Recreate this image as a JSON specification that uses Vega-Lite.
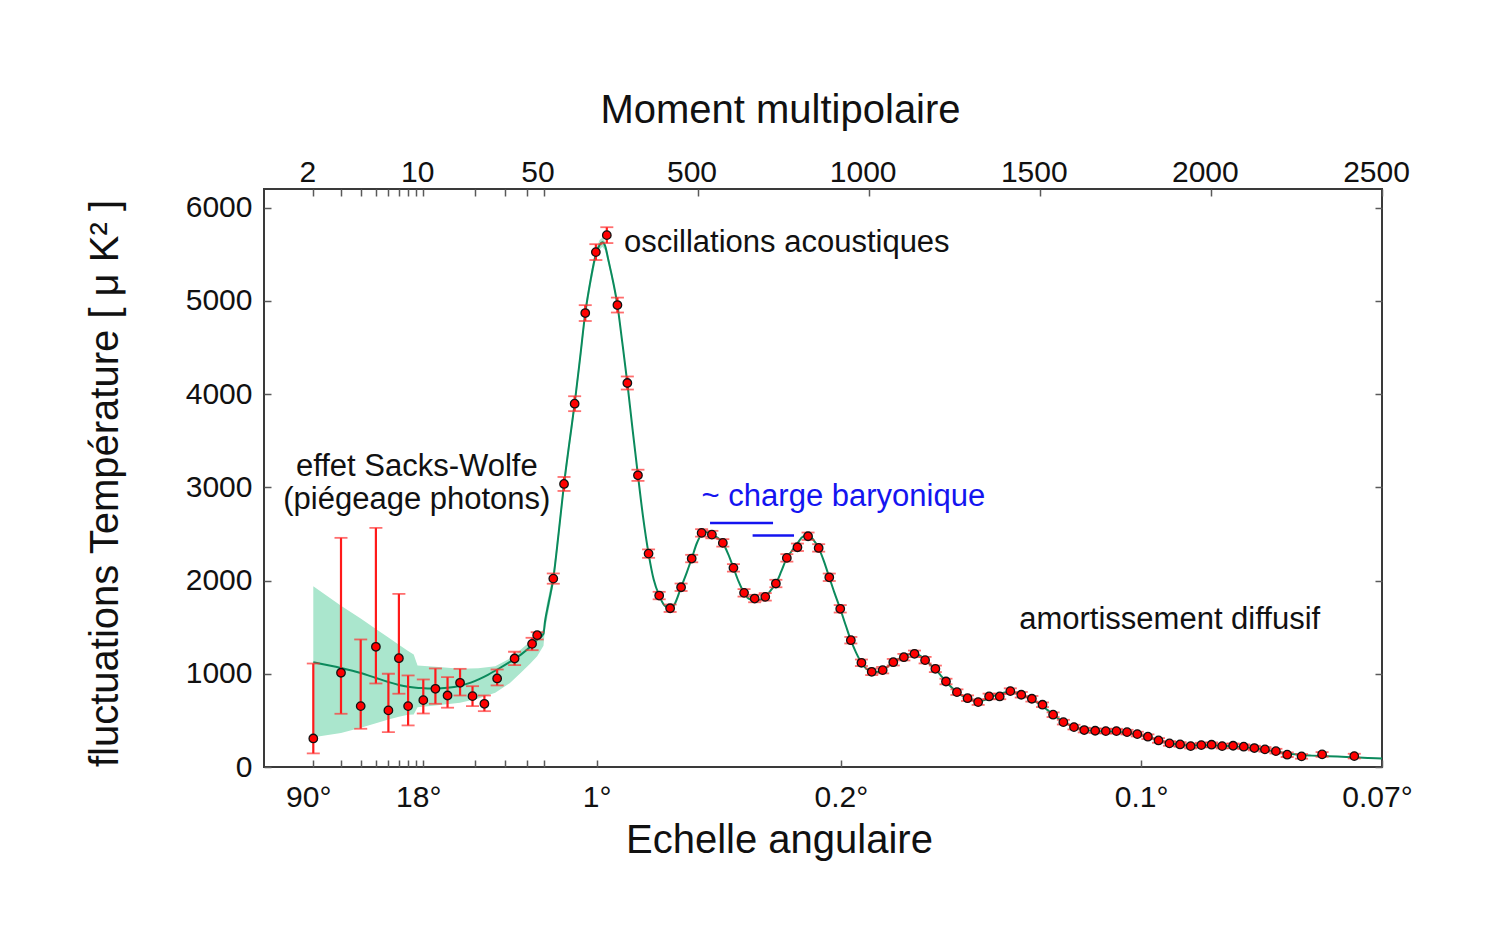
{
  "$schema": "https://vega.github.io/schema/vega-lite/v6.json",
  "width": 1118,
  "height": 578,
  "autosize": {"type": "none"},
  "padding": {"left": 264, "top": 189, "right": 111, "bottom": 164},
  "background": "white",
  "config": {
    "view": {"stroke": "#3a3a3a", "strokeWidth": 2},
    "font": "Liberation Sans",
    "axis": {"grid": false, "domain": false, "tickColor": "#5a5a5a", "tickWidth": 1.5, "tickSize": -7, "labelFont": "Liberation Sans", "labelFontSize": 30, "labelColor": "#111111", "labelFlush": false, "labelOverlap": false, "titleFont": "Liberation Sans", "titleFontSize": 40, "titleFontWeight": "normal", "titleColor": "#111111"}
  },
  "datasets": {
    "band": [
      {"ell": 2, "lo": 320, "hi": 1939},
      {"ell": 3, "lo": 365, "hi": 1731},
      {"ell": 4, "lo": 421, "hi": 1592},
      {"ell": 5, "lo": 470, "hi": 1480},
      {"ell": 6, "lo": 510, "hi": 1389},
      {"ell": 7, "lo": 540, "hi": 1312},
      {"ell": 8, "lo": 560, "hi": 1244},
      {"ell": 8.7, "lo": 564, "hi": 1207},
      {"ell": 9.2, "lo": 640, "hi": 1090},
      {"ell": 12, "lo": 660, "hi": 1075},
      {"ell": 16.5, "lo": 689, "hi": 1053},
      {"ell": 21, "lo": 735, "hi": 1060},
      {"ell": 26.3, "lo": 796, "hi": 1082},
      {"ell": 32, "lo": 900, "hi": 1165},
      {"ell": 37, "lo": 1011, "hi": 1260},
      {"ell": 42, "lo": 1110, "hi": 1345},
      {"ell": 46, "lo": 1189, "hi": 1403},
      {"ell": 50, "lo": 1300, "hi": 1480},
      {"ell": 54, "lo": 1470, "hi": 1610},
      {"ell": 60, "lo": 1580, "hi": 1760},
      {"ell": 65, "lo": 1680, "hi": 1840},
      {"ell": 78.6, "lo": 1950, "hi": 2095},
      {"ell": 94, "lo": 2430, "hi": 2570},
      {"ell": 110, "lo": 2965, "hi": 3105},
      {"ell": 125, "lo": 3390, "hi": 3530},
      {"ell": 141, "lo": 3830, "hi": 3965},
      {"ell": 157, "lo": 4325, "hi": 4455},
      {"ell": 172, "lo": 4805, "hi": 4935},
      {"ell": 188, "lo": 5170, "hi": 5290},
      {"ell": 203, "lo": 5445, "hi": 5555},
      {"ell": 214, "lo": 5548, "hi": 5652},
      {"ell": 222, "lo": 5580, "hi": 5680},
      {"ell": 230, "lo": 5542, "hi": 5638},
      {"ell": 240, "lo": 5385, "hi": 5475},
      {"ell": 252, "lo": 5190, "hi": 5270},
      {"ell": 266, "lo": 4920, "hi": 4990},
      {"ell": 280, "lo": 4530, "hi": 4590},
      {"ell": 295, "lo": 4095, "hi": 4143},
      {"ell": 310, "lo": 3612, "hi": 3648},
      {"ell": 326, "lo": 3117, "hi": 3141}
    ],
    "curve": [
      {"ell": 2, "D": 1124}, {"ell": 3, "D": 1062}, {"ell": 4, "D": 1008}, {"ell": 5, "D": 955},
      {"ell": 6, "D": 912}, {"ell": 7, "D": 880}, {"ell": 8, "D": 860}, {"ell": 9, "D": 850},
      {"ell": 10, "D": 846}, {"ell": 12, "D": 842}, {"ell": 14, "D": 850}, {"ell": 16.5, "D": 872},
      {"ell": 19, "D": 905}, {"ell": 21.4, "D": 946}, {"ell": 24, "D": 992}, {"ell": 28, "D": 1062},
      {"ell": 32, "D": 1128}, {"ell": 37, "D": 1205}, {"ell": 42, "D": 1290}, {"ell": 46, "D": 1365},
      {"ell": 50, "D": 1430}, {"ell": 54, "D": 1550}, {"ell": 65, "D": 1760}, {"ell": 78.6, "D": 2021},
      {"ell": 94, "D": 2500}, {"ell": 110, "D": 3036}, {"ell": 125, "D": 3460}, {"ell": 141, "D": 3897},
      {"ell": 157, "D": 4390}, {"ell": 172, "D": 4869}, {"ell": 188, "D": 5230}, {"ell": 203, "D": 5500},
      {"ell": 214, "D": 5600}, {"ell": 222, "D": 5630}, {"ell": 230, "D": 5590}, {"ell": 240, "D": 5430},
      {"ell": 252, "D": 5230}, {"ell": 266, "D": 4955}, {"ell": 280, "D": 4560}, {"ell": 295, "D": 4119},
      {"ell": 310, "D": 3630}, {"ell": 326, "D": 3129}, {"ell": 341, "D": 2680}, {"ell": 357, "D": 2289},
      {"ell": 372, "D": 2010}, {"ell": 388, "D": 1839}, {"ell": 404, "D": 1730}, {"ell": 418, "D": 1700},
      {"ell": 432, "D": 1740}, {"ell": 452, "D": 1928}, {"ell": 468, "D": 2080}, {"ell": 483, "D": 2236},
      {"ell": 498, "D": 2400}, {"ell": 512, "D": 2495}, {"ell": 525, "D": 2520}, {"ell": 542, "D": 2495},
      {"ell": 558, "D": 2460}, {"ell": 574, "D": 2404}, {"ell": 590, "D": 2280}, {"ell": 605, "D": 2136},
      {"ell": 620, "D": 1990}, {"ell": 636, "D": 1868}, {"ell": 652, "D": 1800}, {"ell": 668, "D": 1785},
      {"ell": 684, "D": 1795}, {"ell": 698, "D": 1825}, {"ell": 714, "D": 1895}, {"ell": 729, "D": 1968},
      {"ell": 745, "D": 2100}, {"ell": 761, "D": 2243}, {"ell": 776, "D": 2320}, {"ell": 792, "D": 2400},
      {"ell": 808, "D": 2470}, {"ell": 823, "D": 2485}, {"ell": 838, "D": 2440}, {"ell": 854, "D": 2350},
      {"ell": 870, "D": 2200}, {"ell": 885, "D": 2035}, {"ell": 900, "D": 1870}, {"ell": 917, "D": 1697},
      {"ell": 933, "D": 1520}, {"ell": 948, "D": 1360}, {"ell": 963, "D": 1230}, {"ell": 979, "D": 1118},
      {"ell": 994, "D": 1050}, {"ell": 1009, "D": 1021}, {"ell": 1025, "D": 1020}, {"ell": 1041, "D": 1039},
      {"ell": 1057, "D": 1080}, {"ell": 1072, "D": 1124}, {"ell": 1088, "D": 1160}, {"ell": 1103, "D": 1188},
      {"ell": 1119, "D": 1210}, {"ell": 1134, "D": 1214}, {"ell": 1150, "D": 1195}, {"ell": 1165, "D": 1146},
      {"ell": 1180, "D": 1100}, {"ell": 1195, "D": 1050}, {"ell": 1210, "D": 985}, {"ell": 1226, "D": 917},
      {"ell": 1242, "D": 855}, {"ell": 1258, "D": 803}, {"ell": 1273, "D": 765}, {"ell": 1289, "D": 738},
      {"ell": 1305, "D": 715}, {"ell": 1320, "D": 705}, {"ell": 1336, "D": 715}, {"ell": 1352, "D": 740},
      {"ell": 1368, "D": 765}, {"ell": 1383, "D": 785}, {"ell": 1398, "D": 800}, {"ell": 1414, "D": 805},
      {"ell": 1430, "D": 795}, {"ell": 1446, "D": 775}, {"ell": 1462, "D": 750}, {"ell": 1477, "D": 722},
      {"ell": 1492, "D": 692}, {"ell": 1508, "D": 655}, {"ell": 1523, "D": 610}, {"ell": 1539, "D": 565},
      {"ell": 1554, "D": 520}, {"ell": 1569, "D": 485}, {"ell": 1585, "D": 455}, {"ell": 1600, "D": 430},
      {"ell": 1615, "D": 412}, {"ell": 1630, "D": 400}, {"ell": 1646, "D": 392}, {"ell": 1662, "D": 387},
      {"ell": 1677, "D": 384}, {"ell": 1693, "D": 382}, {"ell": 1708, "D": 380}, {"ell": 1724, "D": 377},
      {"ell": 1740, "D": 372}, {"ell": 1755, "D": 366}, {"ell": 1770, "D": 358}, {"ell": 1785, "D": 348},
      {"ell": 1800, "D": 337}, {"ell": 1816, "D": 322}, {"ell": 1831, "D": 305}, {"ell": 1847, "D": 288},
      {"ell": 1862, "D": 272}, {"ell": 1879, "D": 257}, {"ell": 1894, "D": 247}, {"ell": 1910, "D": 240},
      {"ell": 1925, "D": 236}, {"ell": 1941, "D": 234}, {"ell": 1956, "D": 233}, {"ell": 1972, "D": 233},
      {"ell": 1987, "D": 233}, {"ell": 2002, "D": 232}, {"ell": 2018, "D": 230}, {"ell": 2033, "D": 227},
      {"ell": 2049, "D": 224}, {"ell": 2065, "D": 221}, {"ell": 2080, "D": 217}, {"ell": 2096, "D": 212},
      {"ell": 2111, "D": 206}, {"ell": 2127, "D": 199}, {"ell": 2142, "D": 192}, {"ell": 2158, "D": 184},
      {"ell": 2174, "D": 175}, {"ell": 2190, "D": 166}, {"ell": 2207, "D": 156}, {"ell": 2223, "D": 146},
      {"ell": 2244, "D": 136}, {"ell": 2265, "D": 128}, {"ell": 2295, "D": 122}, {"ell": 2325, "D": 118},
      {"ell": 2370, "D": 112}, {"ell": 2419, "D": 104}, {"ell": 2460, "D": 97}, {"ell": 2500, "D": 90}
    ],
    "obs": [
      {"ell": 2, "D": 306, "lo": 146, "hi": 1110},
      {"ell": 3, "D": 1011, "lo": 571, "hi": 2458},
      {"ell": 4, "D": 653, "lo": 410, "hi": 1368},
      {"ell": 5, "D": 1289, "lo": 896, "hi": 2565},
      {"ell": 6, "D": 607, "lo": 374, "hi": 1000},
      {"ell": 7, "D": 1167, "lo": 786, "hi": 1857},
      {"ell": 8, "D": 653, "lo": 446, "hi": 982},
      {"ell": 10, "D": 717, "lo": 574, "hi": 939},
      {"ell": 12, "D": 839, "lo": 678, "hi": 1057},
      {"ell": 14, "D": 767, "lo": 636, "hi": 964},
      {"ell": 16.5, "D": 903, "lo": 767, "hi": 1053},
      {"ell": 19.4, "D": 760, "lo": 653, "hi": 867},
      {"ell": 22.8, "D": 678, "lo": 599, "hi": 767},
      {"ell": 27, "D": 950, "lo": 875, "hi": 1046},
      {"ell": 34, "D": 1164, "lo": 1092, "hi": 1236},
      {"ell": 43, "D": 1321, "lo": 1253, "hi": 1386},
      {"ell": 46, "D": 1414, "lo": 1368, "hi": 1446},
      {"ell": 78.6, "D": 2021, "lo": 1966, "hi": 2076},
      {"ell": 110, "D": 3036, "lo": 2961, "hi": 3111},
      {"ell": 141, "D": 3897, "lo": 3817, "hi": 3977},
      {"ell": 172, "D": 4869, "lo": 4784, "hi": 4954},
      {"ell": 203, "D": 5523, "lo": 5438, "hi": 5608},
      {"ell": 235, "D": 5705, "lo": 5620, "hi": 5790},
      {"ell": 266, "D": 4955, "lo": 4875, "hi": 5035},
      {"ell": 295, "D": 4119, "lo": 4049, "hi": 4189},
      {"ell": 326, "D": 3129, "lo": 3069, "hi": 3189},
      {"ell": 357, "D": 2289, "lo": 2244, "hi": 2334},
      {"ell": 388, "D": 1839, "lo": 1799, "hi": 1879},
      {"ell": 420, "D": 1703, "lo": 1663, "hi": 1743},
      {"ell": 452, "D": 1928, "lo": 1888, "hi": 1968},
      {"ell": 483, "D": 2236, "lo": 2196, "hi": 2276},
      {"ell": 512, "D": 2511, "lo": 2471, "hi": 2551},
      {"ell": 542, "D": 2493, "lo": 2453, "hi": 2533},
      {"ell": 574, "D": 2404, "lo": 2364, "hi": 2444},
      {"ell": 605, "D": 2136, "lo": 2096, "hi": 2176},
      {"ell": 636, "D": 1868, "lo": 1828, "hi": 1908},
      {"ell": 667, "D": 1807, "lo": 1767, "hi": 1847},
      {"ell": 698, "D": 1825, "lo": 1785, "hi": 1865},
      {"ell": 729, "D": 1968, "lo": 1928, "hi": 2008},
      {"ell": 761, "D": 2243, "lo": 2203, "hi": 2283},
      {"ell": 792, "D": 2357, "lo": 2317, "hi": 2397},
      {"ell": 823, "D": 2475, "lo": 2435, "hi": 2515},
      {"ell": 854, "D": 2350, "lo": 2310, "hi": 2390},
      {"ell": 885, "D": 2035, "lo": 1995, "hi": 2075},
      {"ell": 917, "D": 1697, "lo": 1657, "hi": 1737},
      {"ell": 948, "D": 1360, "lo": 1325, "hi": 1395},
      {"ell": 979, "D": 1118, "lo": 1083, "hi": 1153},
      {"ell": 1009, "D": 1021, "lo": 986, "hi": 1056},
      {"ell": 1041, "D": 1039, "lo": 1004, "hi": 1074},
      {"ell": 1072, "D": 1124, "lo": 1089, "hi": 1159},
      {"ell": 1103, "D": 1178, "lo": 1143, "hi": 1213},
      {"ell": 1134, "D": 1214, "lo": 1179, "hi": 1249},
      {"ell": 1165, "D": 1146, "lo": 1111, "hi": 1181},
      {"ell": 1195, "D": 1053, "lo": 1018, "hi": 1088},
      {"ell": 1226, "D": 917, "lo": 887, "hi": 947},
      {"ell": 1258, "D": 803, "lo": 773, "hi": 833},
      {"ell": 1289, "D": 738, "lo": 708, "hi": 768},
      {"ell": 1320, "D": 696, "lo": 666, "hi": 726},
      {"ell": 1352, "D": 757, "lo": 727, "hi": 787},
      {"ell": 1383, "D": 757, "lo": 727, "hi": 787},
      {"ell": 1414, "D": 814, "lo": 784, "hi": 844},
      {"ell": 1446, "D": 775, "lo": 745, "hi": 805},
      {"ell": 1477, "D": 732, "lo": 702, "hi": 762},
      {"ell": 1508, "D": 668, "lo": 643, "hi": 693},
      {"ell": 1539, "D": 561, "lo": 536, "hi": 586},
      {"ell": 1569, "D": 481, "lo": 456, "hi": 506},
      {"ell": 1600, "D": 428, "lo": 403, "hi": 453},
      {"ell": 1630, "D": 396, "lo": 371, "hi": 421},
      {"ell": 1662, "D": 389, "lo": 364, "hi": 414},
      {"ell": 1693, "D": 385, "lo": 360, "hi": 410},
      {"ell": 1724, "D": 385, "lo": 360, "hi": 410},
      {"ell": 1755, "D": 374, "lo": 349, "hi": 399},
      {"ell": 1785, "D": 353, "lo": 328, "hi": 378},
      {"ell": 1816, "D": 325, "lo": 300, "hi": 350},
      {"ell": 1847, "D": 285, "lo": 260, "hi": 310},
      {"ell": 1879, "D": 253, "lo": 228, "hi": 278},
      {"ell": 1910, "D": 242, "lo": 217, "hi": 267},
      {"ell": 1941, "D": 224, "lo": 199, "hi": 249},
      {"ell": 1972, "D": 235, "lo": 210, "hi": 260},
      {"ell": 2002, "D": 239, "lo": 214, "hi": 264},
      {"ell": 2033, "D": 224, "lo": 199, "hi": 249},
      {"ell": 2065, "D": 228, "lo": 203, "hi": 253},
      {"ell": 2096, "D": 218, "lo": 193, "hi": 243},
      {"ell": 2127, "D": 203, "lo": 178, "hi": 228},
      {"ell": 2158, "D": 189, "lo": 164, "hi": 214},
      {"ell": 2190, "D": 170, "lo": 145, "hi": 195},
      {"ell": 2223, "D": 132, "lo": 107, "hi": 157},
      {"ell": 2265, "D": 114, "lo": 89, "hi": 139},
      {"ell": 2325, "D": 135, "lo": 110, "hi": 160},
      {"ell": 2419, "D": 117, "lo": 92, "hi": 142}
    ],
    "notesLeft": [
      {"ell": 285, "D": 5529, "label": "oscillations acoustiques"},
      {"ell": 1440, "D": 1475, "label": "amortissement diffusif"}
    ],
    "notesCenter": [
      {"ell": 9.1, "D": 3125, "label": "effet Sacks-Wolfe"},
      {"ell": 9.1, "D": 2772, "label": "(piégeage photons)"}
    ],
    "notesBlue": [
      {"ell": 512, "D": 2796, "label": "~ charge baryonique"}
    ],
    "blueLines": [
      {"ell": 536.6, "ell2": 720.7, "D": 2618},
      {"ell": 661, "ell2": 782, "D": 2482}
    ]
  },
  "layer": [
    {
      "data": {"name": "band"},
      "mark": {"type": "area", "color": "#aae6cd", "interpolate": "linear"},
      "encoding": {
        "x": {"field": "ell", "type": "quantitative",
          "scale": {"type": "linear", "domain": [2,3,4,5,6,7,8,9,10,15,20,25,30,35,40,45,50,2500], "range": [49.3,77.0,96.7,111.9,124.4,134.9,144.1,152.1,159.3,189.6,211.1,227.7,241.3,252.9,262.8,271.6,279.5,1118], "nice": false, "zero": false},
          "axis": {"orient": "bottom", "values": [2,3,4,5,6,7,8,9,10,20,30,40,50,205,919,1796,2500],
            "labelExpr": "datum.value == 2 ? '90°' : datum.value == 10 ? '18°' : datum.value == 205 ? '1°' : datum.value == 919 ? '0.2°' : datum.value == 1796 ? '0.1°' : datum.value == 2500 ? '0.07°' : ''",
            "labelPadding": 46, "labelBaseline": "alphabetic",
            "labelOffset": {"condition": {"test": "datum.value <= 10 || datum.value >= 2500", "value": -5}, "value": 0},
            "title": "Echelle angulaire", "titleX": 515, "titleY": 85, "titleAlign": "center", "titleBaseline": "alphabetic", "titleAngle": 0}},
        "y": {"field": "lo", "type": "quantitative",
          "scale": {"domain": [0, 6200], "nice": false, "zero": true},
          "axis": {"orient": "left", "values": [0,1000,2000,3000,4000,5000,6000], "format": "d", "labelPadding": 19,
            "title": "fluctuations  Température [ μ K² ]", "titleX": -147, "titleY": 294, "titleAngle": 270, "titleAlign": "center", "titleBaseline": "alphabetic"}},
        "y2": {"field": "hi"}
      }
    },
    {
      "data": {"name": "curve"},
      "mark": {"type": "line", "color": "#0b8a5c", "strokeWidth": 2, "interpolate": "monotone"},
      "encoding": {
        "x": {"field": "ell", "type": "quantitative",
          "scale": {"type": "linear", "domain": [2,3,4,5,6,7,8,9,10,15,20,25,30,35,40,45,50,2500], "range": [49.3,77.0,96.7,111.9,124.4,134.9,144.1,152.1,159.3,189.6,211.1,227.7,241.3,252.9,262.8,271.6,279.5,1118], "nice": false, "zero": false},
          "axis": {"orient": "top", "values": [2,3,4,5,6,7,8,9,10,20,30,40,50,500,1000,1500,2000,2500], "format": "d",
            "labelExpr": "indexof([2,10,50,500,1000,1500,2000,2500], datum.value) >= 0 ? datum.label : ''",
            "labelPadding": 15, "labelBaseline": "alphabetic", "labelOffset": -6,
            "title": "Moment multipolaire", "titleX": 516, "titleY": -67, "titleAlign": "center", "titleBaseline": "alphabetic", "titleAngle": 0}},
        "y": {"field": "D", "type": "quantitative",
          "scale": {"domain": [0, 6200], "nice": false, "zero": true},
          "axis": {"orient": "right", "values": [0,1000,2000,3000,4000,5000,6000], "labels": false, "title": null}}
      }
    },
    {
      "data": {"name": "obs"},
      "mark": {"type": "rule", "color": "#ff1a1a", "strokeWidth": 2.2},
      "encoding": {
        "x": {"field": "ell", "type": "quantitative", "axis": null},
        "y": {"field": "lo", "type": "quantitative", "axis": null},
        "y2": {"field": "hi"}
      }
    },
    {
      "data": {"name": "obs"},
      "mark": {"type": "tick", "orient": "horizontal", "color": "#ff3030", "size": 13, "thickness": 1.8},
      "encoding": {
        "x": {"field": "ell", "type": "quantitative", "axis": null},
        "y": {"field": "lo", "type": "quantitative", "axis": null}
      }
    },
    {
      "data": {"name": "obs"},
      "mark": {"type": "tick", "orient": "horizontal", "color": "#ff3030", "size": 13, "thickness": 1.8},
      "encoding": {
        "x": {"field": "ell", "type": "quantitative", "axis": null},
        "y": {"field": "hi", "type": "quantitative", "axis": null}
      }
    },
    {
      "data": {"name": "obs"},
      "mark": {"type": "point", "shape": "circle", "filled": true, "fill": "#ff0000", "stroke": "#111111", "strokeWidth": 1.3, "size": 72, "opacity": 1},
      "encoding": {
        "x": {"field": "ell", "type": "quantitative", "axis": null},
        "y": {"field": "D", "type": "quantitative", "axis": null}
      }
    },
    {
      "data": {"name": "notesLeft"},
      "mark": {"type": "text", "align": "left", "baseline": "alphabetic", "font": "Liberation Sans", "fontSize": 31, "color": "#111111"},
      "encoding": {
        "x": {"field": "ell", "type": "quantitative", "axis": null},
        "y": {"field": "D", "type": "quantitative", "axis": null},
        "text": {"field": "label"}
      }
    },
    {
      "data": {"name": "notesCenter"},
      "mark": {"type": "text", "align": "center", "baseline": "alphabetic", "font": "Liberation Sans", "fontSize": 31, "color": "#111111"},
      "encoding": {
        "x": {"field": "ell", "type": "quantitative", "axis": null},
        "y": {"field": "D", "type": "quantitative", "axis": null},
        "text": {"field": "label"}
      }
    },
    {
      "data": {"name": "notesBlue"},
      "mark": {"type": "text", "align": "left", "baseline": "alphabetic", "font": "Liberation Sans", "fontSize": 31, "color": "#1414f0"},
      "encoding": {
        "x": {"field": "ell", "type": "quantitative", "axis": null},
        "y": {"field": "D", "type": "quantitative", "axis": null},
        "text": {"field": "label"}
      }
    },
    {
      "data": {"name": "blueLines"},
      "mark": {"type": "rule", "color": "#1414f0", "strokeWidth": 2.5},
      "encoding": {
        "x": {"field": "ell", "type": "quantitative", "axis": null},
        "x2": {"field": "ell2"},
        "y": {"field": "D", "type": "quantitative", "axis": null}
      }
    }
  ],
  "resolve": {"axis": {"x": "independent", "y": "independent"}}
}
